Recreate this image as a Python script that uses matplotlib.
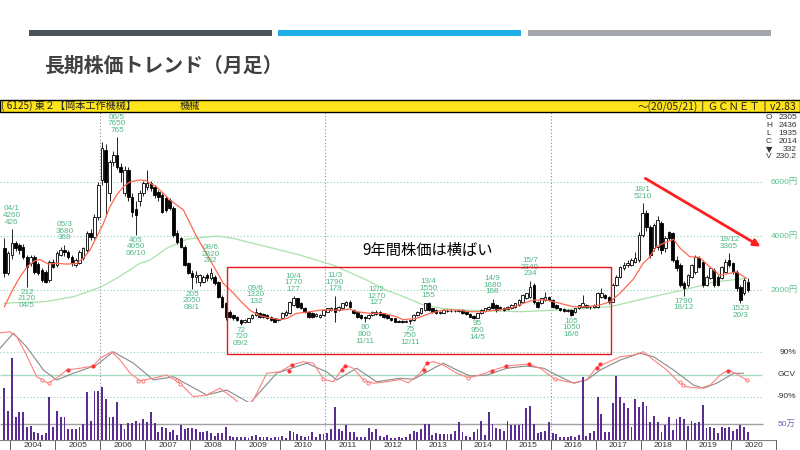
import numpy as np
import matplotlib
matplotlib.use("Agg")
import matplotlib.pyplot as plt
from matplotlib.patches import Rectangle, FancyArrowPatch

plt.rcParams['font.family'] = ['Liberation Sans', 'Noto Sans CJK JP', 'DejaVu Sans']

# ---------------- data (monthly, Nov 2003 .. May 2020) ----------------
opens = [
    3540, 2620,
    3300, 3730, 3650, 3600, 3230, 2990, 3230, 2980, 2740, 2680, 2370, 3050,
    2920, 3300, 3480, 3400, 3230, 2930, 3000, 3170, 3480, 4120, 3970, 4710,
    6070, 7180, 5600, 6750, 7000, 6570, 5580, 6440, 5450, 5000, 5300, 5580,
    5830, 5950, 5830, 5640, 5518, 5394, 5333, 5024, 4100, 3912, 3604, 2986,
    2616, 2500, 2307, 2307, 2554, 2430, 2492, 2307, 1751, 1504, 1196, 1072,
    1010, 886, 824, 824, 948, 1072, 1134, 1110, 1073, 1011, 950, 888,
    950, 1073, 1135, 1443, 1690, 1505, 1320, 1196, 1135, 1050, 1011, 1073,
    1196, 1258, 1320, 1258, 1320, 1443, 1567, 1258, 1196, 1073, 1011, 950,
    1073, 1110, 1196, 1135, 1073, 950, 950, 850, 860, 830, 860, 888,
    1073, 1135, 1258, 1505, 1320, 1258, 1135, 1160, 1210, 1240, 1210, 1230,
    1250, 1170, 1110, 1040, 950, 1135, 1230, 1280, 1530, 1443, 1381, 1350,
    1280, 1320, 1381, 1443, 1566, 1690, 1750, 2183, 1566, 1505, 1628, 1751,
    1628, 1443, 1319, 1282, 1232, 1257, 1195, 1319, 1381, 1443, 1381, 1381,
    1381, 1751, 1813, 1751, 1566, 2183, 2492, 2800, 2924, 2924, 3048, 3110,
    4036, 4839, 4345, 3542, 3604, 4469, 3542, 4160, 4098, 3110, 2925, 2250,
    2184, 2493, 2678, 3172, 3048, 2184, 2431, 2740, 2493, 2431, 2678, 3110,
    2986, 2678, 2122, 1875, 2305,
]
highs = [
    3910, 3450,
    4260, 3800, 3750, 3700, 3300, 3300, 3280, 3050, 2800, 2750, 3100, 3150,
    3450, 3600, 3680, 3500, 3300, 3200, 3500, 3600, 4200, 4250, 4800, 6000,
    7500, 7400, 6800, 7150, 7650, 6700, 6600, 6550, 5600, 5300, 5700, 6050,
    6445, 6050, 5900, 5700, 5600, 5500, 5400, 5100, 4220, 3950, 3650, 3050,
    2750, 2700, 2600, 2550, 2620, 2820, 2550, 2350, 1800, 1550, 1250, 1100,
    1050, 920, 920, 980, 1100, 1320, 1200, 1150, 1120, 1050, 980, 950,
    1180, 1250, 1600, 1770, 1720, 1550, 1380, 1230, 1180, 1160, 1100, 1290,
    1350, 1380, 1790, 1420, 1530, 1600, 1620, 1300, 1220, 1100, 1050, 1100,
    1220, 1270, 1230, 1160, 1100, 980, 970, 880, 880, 890, 900, 1100,
    1220, 1350, 1520, 1550, 1350, 1280, 1230, 1290, 1280, 1290, 1270, 1290,
    1290, 1200, 1140, 1070, 1150, 1290, 1350, 1410, 1680, 1470, 1400, 1380,
    1400, 1470, 1530, 1650, 1850, 1900, 2340, 2250, 1600, 1720, 1930, 1780,
    1650, 1470, 1350, 1320, 1300, 1280, 1340, 1460, 1810, 1480, 1420, 1480,
    1930, 2060, 1850, 1780, 2250, 2550, 2900, 3050, 3100, 3200, 3400, 4150,
    5210, 4950, 4400, 4500, 4750, 4550, 4000, 4200, 4150, 3250, 3000, 2350,
    2600, 2950, 3300, 3250, 3100, 2550, 2850, 2800, 2550, 2900, 3150, 3365,
    3050, 2750, 2200, 2450, 2436,
]
lows = [
    2490, 2550,
    3150, 3450, 3350, 3150, 2120, 2900, 2600, 2550, 2300, 2250, 2300, 2800,
    2850, 3250, 3250, 3150, 2900, 2850, 2950, 3100, 3400, 3850, 3900, 4600,
    5900, 4750, 5300, 6600, 6500, 6000, 5500, 5300, 4700, 4050, 5100, 5500,
    5700, 5650, 5400, 5300, 4850, 4900, 4950, 3950, 3700, 3550, 2900, 2580,
    2050, 2250, 2150, 2250, 2350, 2380, 2200, 1700, 1350, 900, 950, 900,
    850, 720, 780, 800, 920, 1050, 980, 980, 920, 860, 800, 850,
    920, 1040, 1100, 1400, 1350, 1280, 1150, 980, 980, 1000, 980, 1050,
    1180, 1230, 826, 1230, 1290, 1420, 1350, 1100, 980, 920, 800, 930,
    1050, 1090, 1050, 980, 920, 860, 810, 800, 790, 800, 750, 870,
    1050, 1100, 1230, 1230, 1150, 1100, 1100, 1130, 1180, 1180, 1180, 1200,
    1110, 1080, 990, 930, 950, 1110, 1200, 1250, 1300, 1200, 1250, 1230,
    1250, 1300, 1350, 1420, 1550, 1650, 1700, 1500, 1330, 1480, 1600, 1600,
    1350, 1280, 1230, 1200, 1200, 1050, 1150, 1300, 1360, 1350, 1300, 1350,
    1350, 1700, 1650, 1500, 1550, 2150, 2450, 2750, 2850, 2900, 3000, 3050,
    3950, 4200, 3200, 3450, 3500, 3350, 3400, 3850, 3050, 2700, 2100, 1790,
    2100, 2450, 2600, 2800, 2100, 2150, 2400, 2100, 2150, 2400, 2650, 2850,
    2600, 1950, 1523, 1800, 1935,
]
closes = [
    2620, 3360,
    3730, 3540, 3480, 3230, 2860, 3230, 2680, 2620, 2370, 2310, 3050, 2860,
    3360, 3480, 3400, 3230, 2990, 3110, 3420, 3540, 4100, 3970, 4710, 5890,
    7250, 6000, 6750, 7000, 6570, 6380, 6440, 5456, 4900, 4780, 5580, 5950,
    5950, 5765, 5518, 5456, 4900, 4962, 5024, 4036, 3789, 3604, 2924, 2616,
    2492, 2560, 2554, 2492, 2430, 2616, 2245, 1751, 1381, 1010, 1010, 948,
    886, 763, 886, 948, 1072, 1195, 1010, 1010, 950, 888, 826, 920,
    1135, 1196, 1567, 1690, 1382, 1320, 1196, 1011, 1011, 1120, 1073, 1258,
    1320, 1320, 1196, 1381, 1505, 1567, 1382, 1135, 1011, 950, 950, 1073,
    1196, 1196, 1073, 1011, 950, 888, 826, 830, 826, 860, 880, 1073,
    1196, 1320, 1505, 1258, 1196, 1135, 1196, 1258, 1240, 1210, 1230, 1250,
    1135, 1110, 1011, 950, 1135, 1258, 1320, 1381, 1320, 1258, 1280, 1258,
    1381, 1443, 1505, 1630, 1813, 1875, 2120, 1566, 1381, 1690, 1751, 1628,
    1381, 1319, 1257, 1232, 1270, 1072, 1319, 1443, 1504, 1381, 1360, 1443,
    1875, 1875, 1689, 1566, 2183, 2492, 2863, 2924, 2986, 3110, 3171, 4036,
    4839, 4345, 3295, 4407, 4592, 3481, 3913, 3913, 3110, 2810, 2184, 2060,
    2554, 2925, 3234, 2863, 2184, 2493, 2801, 2184, 2184, 2863, 3048, 2925,
    2678, 2061, 1628, 2370, 2014,
]
volumes = [  # 万株
    161, 91,
    255, 71, 86, 89, 42, 44, 26, 23, 16, 21, 135, 42,
    91, 71, 71, 34, 35, 34, 42, 49, 151, 59, 154, 154,
    167, 127, 73, 73, 118, 49, 34, 54, 54, 59, 54, 65,
    57, 89, 52, 26, 42, 36, 26, 31, 16, 47, 33, 38,
    38, 35, 24, 24, 28, 21, 12, 21, 21, 40, 12, 10,
    10, 8, 10, 7, 12, 16, 10, 10, 8, 7, 8, 10,
    12, 5, 28, 26, 19, 12, 8, 12, 26, 10, 18, 18,
    21, 34, 102, 34, 28, 47, 24, 24, 10, 10, 10, 38,
    26, 33, 12, 8, 15, 7, 7, 8, 7, 10, 19, 29,
    24, 34, 50, 50, 16, 23, 19, 19, 18, 18, 28, 55,
    26, 12, 8, 24, 33, 60, 16, 89, 49, 36, 35, 28,
    60, 47, 46, 47, 49, 99, 106, 50, 21, 26, 29, 55,
    23, 19, 10, 10, 10, 12, 10, 16, 198, 12, 21, 29,
    133, 81, 26, 26, 117, 200, 133, 117, 99, 42, 128, 104,
    120, 106, 56, 75, 56, 24, 47, 71, 31, 67, 71, 65,
    44, 59, 54, 56, 109, 38, 42, 36, 23, 42, 36, 42,
    29, 35, 46, 40, 24,
]

# moving averages (x = months since Jan 2004)
ma_short_x = [-1.5, 0.5, 2.5, 4.5, 6.5, 8.0, 10.2, 12.4, 15.1, 17.8, 19.5, 21.3, 23.1, 24.9, 26.6, 28.4,
              30.2, 32.0, 34.6, 36.0, 39.0, 42.6, 46.2, 49.7, 53.3, 56.8, 59.4, 61.0, 63.9, 66.5, 68.4,
              70.0, 72.0, 73.8, 76.3, 79.9, 82.6, 84.3, 88.7, 90.5, 92.3, 95.9, 99.4, 102.9, 104.7,
              108.3, 111.8, 115.4, 118.9, 122.5, 126.0, 129.6, 133.1, 136.7, 139.4, 142.9, 146.5,
              150.0, 153.6, 157.1, 159.8, 162.4, 166.0, 168.6, 170.0, 172.2, 174.0, 176.7, 178.5,
              181.0, 183.6, 186.3, 189.0, 191.6, 193.4, 196.1]
ma_short_y = [1380, 1950, 2450, 2850, 3080, 3130, 2960, 2986, 2960, 2986, 3170, 3480, 3970, 4470, 5085, 5518,
              5826, 6011, 6074, 6060, 5826, 5333, 4962, 3974, 3110, 2245, 1900, 1650, 1250, 1050, 986,
              950, 900, 950, 1135, 1196, 1258, 1258, 1258, 1295, 1196, 1135, 1135, 1011, 900,
              950, 1135, 1258, 1258, 1196, 1196, 1258, 1320, 1505, 1628, 1628, 1504,
              1381, 1381, 1443, 1566, 1875, 2400, 2986, 3172, 3604, 3728, 3876, 3542,
              3234, 3209, 2863, 2554, 2616, 2678, 2431]
ma_long_x = [-1.5, 1.1, 9.3, 16.9, 24.0, 28.4, 34.6, 37.3, 41.7, 47.0, 55.0, 59.4, 68.4, 77.2, 86.0, 95.0,
             100.0, 104.0, 110.0, 115.0, 120.0, 130.0, 135.8, 145.0, 153.6, 159.8, 165.0, 171.2, 179.2,
             188.1, 196.1]
ma_long_y = [1504, 1529, 1566, 1751, 2100, 2431, 2986, 3110, 3542, 3876, 4000, 3913, 3604, 3295, 2925, 2369,
             2000, 1800, 1450, 1320, 1260, 1220, 1195, 1250, 1320, 1381, 1550, 1752, 1999,
             2307, 2431]

# oscillator (%)
osc_fast_x = [-2.66, 0, 1.8, 4.4, 7.1, 10.2, 12.9, 15.1, 18.6, 22.2, 24, 27.1, 29.3, 32, 34.6, 38.2, 41.7,
              45.3, 48.8, 52.4, 55.9, 59.5, 62.6, 64.8, 68.4, 71.9, 75, 78.1, 80.8, 83.5, 86.1, 89.2, 91.4,
              94.1, 96.8, 100.3, 103.9, 106.1, 109.2, 111, 112.8, 115.4, 119, 122.1, 125.2, 128.8, 132.3,
              138.1, 141.2, 144.7, 148.3, 150.1, 153.6, 156.3, 158.9, 162.5, 166, 168.7, 171.4, 174.9,
              178, 180.2, 183.8, 186.5, 189.1, 191.3, 193.6, 196.2]
osc_fast_y = [167, 171, 151, 78, -9, -35, -9, 18, 25, 34, 65, 91, 58, 5, -25, -15, -2,
              -35, -89, -82, -55, -95, -135, -102, 5, 11, 38, 51, 45, -19, -29, 38, 25,
              -22, -35, -29, -20, -33, 5, 45, 51, 38, 5, -13, -2, 18, 34,
              42, 25, -15, -29, -33, -22, 31, 47, 71, 78, 91, 58, 18,
              -29, -49, -55, -42, -2, 18, 1, -22]
osc_slow_x = [-2.66, 0.9, 4.4, 8.9, 12.4, 16.9, 23.1, 27.5, 32.9, 38.2, 43.5, 52.4, 57.7, 63.9, 71, 79,
              84.3, 87, 92.3, 97.6, 103.9, 107.5, 112.8, 115.4, 119, 122.5, 127, 132.3, 137.6, 142.1,
              146.5, 150.1, 153.6, 157.2, 162.5, 167.8, 171.4, 176.7, 182, 184.7, 188.2, 192.7, 195.3]
osc_slow_y = [105, 165, 111, 18, -22, 5, 38, 91, 45, -22, -9, -82, -62, -115, 5, 45,
              11, -22, 25, -29, -15, -19, 25, 45, 18, -6, -2, 25, 34, 25,
              -9, -35, -22, 18, 58, 85, 71, 18, -42, -55, -35, 5, 5]
sig_buy_x = [15.4, 22.2, 74.4, 75.2, 88.3, 89.2, 110.3, 111, 128.3, 132.1, 138.3, 156.3, 157.2, 191.2]
sig_buy_y = [18, 34, 14, 38, 18, 34, 18, 45, 15, 34, 41, 27, 41, 15]
sig_sell_x = [8.4, 10.5, 34.2, 35.3, 44.4, 45.3, 83.3, 94.4, 95.4, 122.1, 145.2, 178.3, 179.2, 196.2]
sig_sell_y = [-22, -33, -25, -26, -22, -38, -19, -22, -33, -15, -18, -29, -42, -22]

# high / low annotations (year, month, text)
hi_year = [2004, 2005, 2006, 2008, 2009, 2010, 2011, 2012, 2013, 2014, 2015, 2018, 2019]
hi_month = [1, 3, 5, 6, 6, 4, 3, 2, 4, 9, 7, 1, 12]
hi_text = ["04/1\n4260\n426", "05/3\n3680\n368", "06/5\n7650\n765", "08/6\n2820\n282", "09/6\n1320\n132",
           "10/4\n1770\n177", "11/3\n1790\n179", "12/2\n1270\n127", "13/4\n1550\n155", "14/9\n1680\n168",
           "15/7\n2340\n234", "18/1\n5210", "19/12\n3365"]
lo_year = [2004, 2006, 2008, 2009, 2011, 2012, 2014, 2016, 2018, 2020]
lo_month = [5, 10, 1, 2, 11, 11, 5, 6, 12, 3]
lo_text = ["212\n2120\n04/5", "405\n4050\n06/10", "205\n2050\n08/1", "72\n720\n09/2", "80\n800\n11/11",
           "75\n750\n12/11", "95\n950\n14/5", "105\n1050\n16/6", "1790\n18/12", "1523\n20/3"]

years = list(range(2004, 2021))
price_ticks = [2000, 4000, 6000]
price_tick_labels = ["2000円", "4000円", "6000円"]
info_keys = ["O", "H", "L", "C", "▼", "V"]
info_vals = ["2305", "2436", "1935", "2014", "332", "230.2"]

# ---------------- layout helpers ----------------
W, H = 800, 450
PXM = 3.755       # pixels per month
X0 = 10           # pixel of Jan 2004


def rect(x0, y0, x1, y1):
    return [x0 / W, 1 - y1 / H, (x1 - x0) / W, (y1 - y0) / H]


def px2m(x):
    return (x - X0) / PXM


def fx(x):
    return x / W


def fy(y):
    return 1 - y / H


XLIM = (px2m(0), px2m(777))
opens, highs, lows, closes, volumes = map(np.array, (opens, highs, lows, closes, volumes))
n = len(closes)
pos = np.arange(n) - 2 + 0.5   # first candle is Nov 2003


def mpos(y, m):
    return (y - 2004) * 12 + (m - 1) + 0.5


def midx(y, m):
    return (y - 2003) * 12 + (m - 11)


fig = plt.figure(figsize=(8, 4.5), dpi=100)
fig.patch.set_facecolor('white')

# title bars and title
fig.add_artist(Rectangle((fx(29), fy(36)), fx(272) - fx(29), fy(30) - fy(36), transform=fig.transFigure,
                         facecolor='#4a5359', edgecolor='none'))
fig.add_artist(Rectangle((fx(278), fy(36)), fx(521) - fx(278), fy(30) - fy(36), transform=fig.transFigure,
                         facecolor='#1eaee8', edgecolor='none'))
fig.add_artist(Rectangle((fx(528), fy(36)), fx(771) - fx(528), fy(30) - fy(36), transform=fig.transFigure,
                         facecolor='#a3a7ab', edgecolor='none'))
fig.text(fx(44), fy(65), "長期株価トレンド（月足）", fontsize=14.3, fontweight='bold', color='#404040',
         ha='left', va='center', family=['Noto Sans CJK JP', 'DejaVu Sans'])

# yellow header
fig.add_artist(Rectangle((0, fy(111.5)), 1, fy(100) - fy(111.5), transform=fig.transFigure,
                         facecolor='#ffe41c', edgecolor='black', lw=1.0))
fig.text(fx(1), fy(105.8), "( 6125) 東２【岡本工作機械】", fontsize=7.3, color='#222222', ha='left', va='center',
         family=['Noto Sans CJK JP', 'DejaVu Sans'])
fig.text(fx(180), fy(105.8), "機械", fontsize=7.3, color='#222222', ha='left', va='center',
         family=['Noto Sans CJK JP', 'DejaVu Sans'])
fig.text(fx(796), fy(105.8), "～(20/05/21)║ＧＣＮＥＴ║v2.83", fontsize=7.5, color='#222222', ha='right',
         va='center', family=['Noto Sans CJK JP', 'DejaVu Sans'])

# axes
ax_bg = fig.add_axes(rect(0, 111.5, 777, 440))
ax_osc = fig.add_axes(rect(0, 330, 777, 402))
ax_vol = fig.add_axes(rect(0, 330, 777, 440))
ax_p = fig.add_axes(rect(0, 111.5, 777, 345))
ax_yr = fig.add_axes(rect(0, 440, 777, 450))
for z, ax in enumerate([ax_bg, ax_osc, ax_vol, ax_p, ax_yr]):
    ax.set_xlim(*XLIM)
    ax.set_zorder(z)
    ax.patch.set_visible(False)
    ax.axis('off')

ax_bg.set_ylim(0, 1)
for yv in [2006, 2011, 2016]:
    ax_bg.axvline(mpos(yv, 1) - 0.5, color='#8a8a8a', lw=0.8, ls=(0, (1, 2)))

# price panel
ax_p.set_ylim((344 - 345) / 0.027, (344 - 111.5) / 0.027)
ax_p.hlines(price_ticks, XLIM[0], px2m(762), colors='#8fd0b8', linestyles=(0, (1, 2)), lw=0.8, zorder=0)
ax_p.vlines(pos, lows, highs, color='black', lw=0.6, zorder=2)
up = closes >= opens
bot = np.minimum(opens, closes)
hgt = np.maximum(np.abs(closes - opens), 28)
ax_p.bar(pos[up], hgt[up], bottom=bot[up], width=0.68, facecolor='white', edgecolor='black', lw=0.6, zorder=3)
ax_p.bar(pos[~up], hgt[~up], bottom=bot[~up], width=0.68, facecolor='black', edgecolor='black', lw=0.6, zorder=3)
ax_p.plot(ma_long_x, ma_long_y, color='#a9e2a9', lw=0.9, zorder=1)
ax_p.plot(ma_short_x, ma_short_y, color='#ff6650', lw=0.9, zorder=4)

lab_color = '#4fb886'
for yv, mv, t in zip(hi_year, hi_month, hi_text):
    k = midx(yv, mv)
    ax_p.annotate(t, (pos[k], highs[k]), xytext=(0, 2.5), textcoords='offset points', ha='center', va='bottom',
                  fontsize=5.9, color=lab_color, linespacing=0.92, zorder=6)
for yv, mv, t in zip(lo_year, lo_month, lo_text):
    k = midx(yv, mv)
    ax_p.annotate(t, (pos[k], lows[k]), xytext=(0, -1.5), textcoords='offset points', ha='center', va='top',
                  fontsize=5.9, color=lab_color, linespacing=0.92, zorder=6, annotation_clip=False)

for pv, lab in zip(price_ticks, price_tick_labels):
    fig.text(fx(798), fy(344 - pv * 0.027), lab, fontsize=6, color='#5fbf90', ha='right', va='center')

for k, (a, b) in enumerate(zip(info_keys, info_vals)):
    yy = fy(117.5 + k * 7.9)
    fig.text(fx(766), yy, a, fontsize=6, color='#333333', ha='left', va='center',
             family=['DejaVu Sans', 'Noto Sans CJK JP'] if a == "▼" else None)
    fig.text(fx(797), yy, b, fontsize=6, color='#333333', ha='right', va='center')

# oscillator panel
ax_osc.set_ylim((374.5 - 402) / 0.25, (374.5 - 330) / 0.25)
ax_osc.hlines([90, -90], XLIM[0], px2m(762), colors='#8fd0b8', linestyles=(0, (1, 2)), lw=0.8)
ax_osc.hlines([0], XLIM[0], px2m(762), colors='#a6dcc0', lw=1.0)
ax_osc.plot(osc_slow_x, osc_slow_y, color='#8a8a8a', lw=0.8)
ax_osc.plot(osc_fast_x, osc_fast_y, color='#ff8080', lw=0.8)
ax_osc.plot(sig_buy_x, sig_buy_y, 'o', ms=2.0, color='#ff3535', mec='#ff3535')
ax_osc.plot(sig_sell_x, sig_sell_y, 'o', ms=2.3, mfc='white', mec='#ff6060', mew=0.6)
fig.text(fx(796), fy(352), "90%", fontsize=6, color='#333333', ha='right', va='center')
fig.text(fx(796), fy(374.5), "GCV", fontsize=6, color='#333333', ha='right', va='center')
fig.text(fx(796), fy(397), "-90%", fontsize=6, color='#333333', ha='right', va='center')

# volume panel
ax_vol.set_ylim(0, 110 / 0.32)
ax_vol.hlines([50], XLIM[0], px2m(763), colors='#a0a0a0', lw=1.0)
ax_vol.bar(pos, volumes, width=0.5, color='#5a2d91', zorder=3)
fig.text(fx(796), fy(424), "50万", fontsize=6, color='#7b5cb5', ha='right', va='center',
         family=['Liberation Sans', 'Noto Sans CJK JP'])

# year axis
ax_yr.set_ylim(0, 1)
ax_yr.axhline(1, color='#808080', lw=0.8)
ax_yr.vlines([mpos(yv, 1) - 0.5 for yv in years + [2021]], 0, 1, color='#606060', lw=0.7)
for yv in years:
    ax_yr.text(mpos(yv, 7) - 0.5, 0.45, str(yv), fontsize=6, color='#333333', ha='center', va='center')

# annotations: box, arrow, comment
fig.add_artist(Rectangle((fx(227), fy(354)), fx(611) - fx(227), fy(267) - fy(354), transform=fig.transFigure,
                         facecolor='none', edgecolor='#e8141a', lw=1.0, zorder=10))
fig.add_artist(FancyArrowPatch((fx(643), fy(177)), (fx(763), fy(248)), transform=fig.transFigure,
                               arrowstyle='-|>', mutation_scale=10, lw=2, color='#ff1f1f', zorder=10))
fig.text(fx(428), fy(250), "9年間株価は横ばい", fontsize=11, color='black', ha='center', va='center',
         family=['Noto Sans CJK JP', 'DejaVu Sans'], zorder=10)

fig.savefig("out.png", dpi=100)
